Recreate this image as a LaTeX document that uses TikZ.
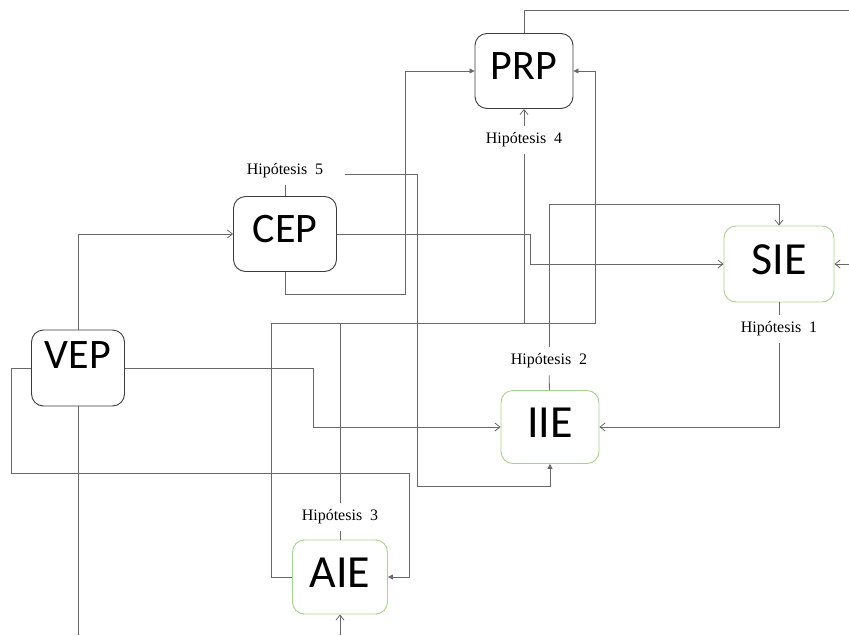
\documentclass[tikz,border=0pt]{standalone}
\usepackage{fontspec}
\setmainfont{Liberation Serif}
\newfontfamily\boxfont{Carlito}
\usetikzlibrary{arrows.meta}
\definecolor{boxgreen}{RGB}{169,209,142}
\definecolor{boxgray}{RGB}{60,60,60}
\definecolor{linkgray}{RGB}{105,105,105}
\tikzset{>={Straight Barb[length=5pt,width=8pt]}}
\tikzset{
    var/.style={draw=boxgray,line width=0.9pt,rounded corners=12pt,
        minimum width=98pt,minimum height=75pt,inner sep=0pt,
        font=\boxfont\fontsize{42}{50}\selectfont,text height=27pt,text depth=10pt},
    est/.style={var,draw=boxgreen,font=\boxfont\fontsize{46}{54}\selectfont,text height=30pt},
    hyp/.style={font=\fontsize{16}{18}\selectfont,inner xsep=2pt,inner ysep=7pt},
    link/.style={draw=linkgray,line width=0.8pt},
    tip/.style={-{Triangle[length=5pt,width=5pt]}}
}

\begin{document}
\begin{tikzpicture}[x=1pt,y=-1pt]
    \useasboundingbox (0,0) rectangle (849,635);
    % bloques
    \node[var] (prp) at (524,71) {PRP};
    \node[var,minimum width=103pt] (cep) at (285,234) {CEP};
    \node[var,minimum width=93pt,minimum height=76pt,text depth=26pt] (vep) at (78,368) {VEP};
    \node[est,minimum width=110pt,minimum height=76pt] (sie) at (779,264) {SIE};
    \node[est,minimum height=73pt] (iie) at (550,427) {IIE};
    \node[est,minimum width=95pt,minimum height=74pt] (aie) at (340,577) {AIE};
    % hipotesis
    \node[hyp] (h1) at (779,329) {Hipótesis\enspace 1};
    \node[hyp] (h2) at (549,361) {Hipótesis\enspace 2};
    \node[hyp] (h3) at (340,517) {Hipótesis\enspace 3};
    \node[hyp] (h4) at (524,140) {Hipótesis\enspace 4};
    \node[hyp,inner xsep=22pt] (h5) at (285,171) {Hipótesis\enspace 5};
    % extremos libres
    \coordinate (topEnd) at (849,10);
    \coordinate (sieIn) at (849,264);
    \coordinate (vepEnd) at (78,635);
    \coordinate (aieIn) at (340,635);
    % conexiones
    \draw[link] (prp) |- (topEnd);
    \draw[link,tip] (cep) |- (405,294) |- (prp);
    \draw[link,tip] (aie) -| (271,323) -- (595,323) |- (prp);
    \draw[link] (aie) -- (h3);
    \draw[link] (h3) -- (340,323) -| (h4);
    \draw[link,->] (h4) -- (prp);
    \draw[link,->] (vep) -| (313,427) -- (iie);
    \draw[link,->] (vep) |- (cep);
    \draw[link,tip] (vep) -| (11,473) -| (409,577) -- (aie);
    \draw[link] (vep) -- (vepEnd);
    \draw[link] (cep) -- (h5);
    \draw[link,tip] (h5.base east) -| (417,486) -| (iie);
    \draw[link,->] (cep) -| (530,264) -- (sie);
    \draw[link] (iie) -- (h2);
    \draw[link,->] (h2) |- (779,204) -- (sie);
    \draw[link] (sie) -- (h1);
    \draw[link,->] (h1) |- (iie);
    \draw[link,->] (sieIn) -- (sie);
    \draw[link,->] (aieIn) -- (aie);
\end{tikzpicture}
\end{document}
